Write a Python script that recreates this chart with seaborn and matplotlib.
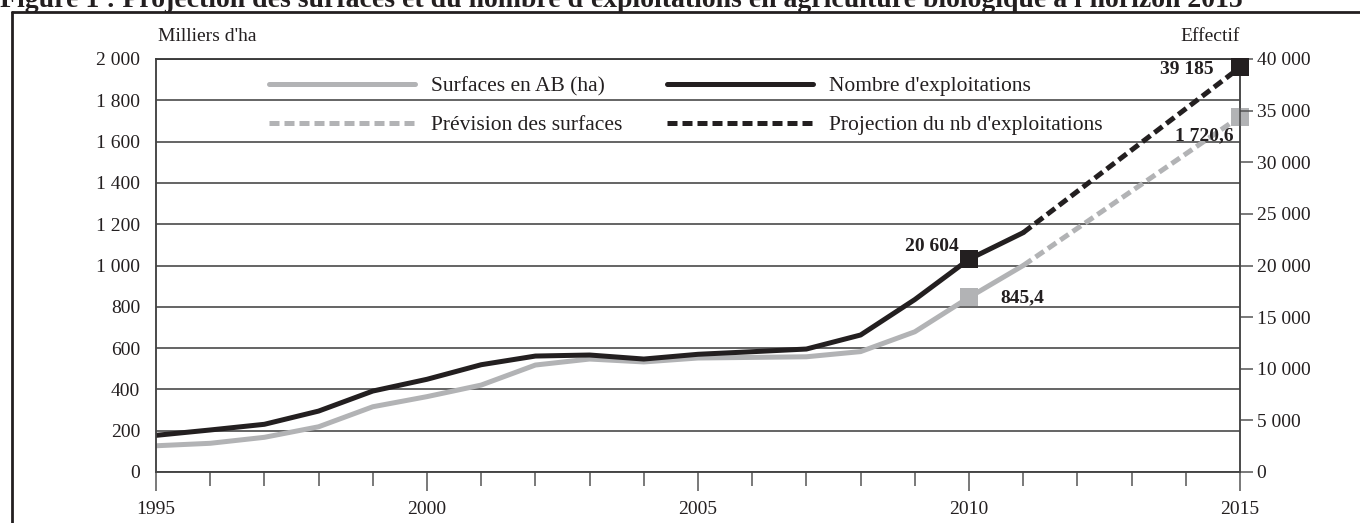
import numpy as np
import pandas as pd
import matplotlib.pyplot as plt
import matplotlib.ticker as mticker
from matplotlib.lines import Line2D
import seaborn as sns

# Surfaces (milliers d'ha) and number of farms, observed 1995-2011
years = list(range(1995, 2012))
surfaces = [127, 139, 168, 219, 316, 365, 421, 518, 547, 533, 552, 555, 558, 583, 679, 845.4, 1000]
exploitations = [3550, 4070, 4620, 5900, 7840, 8980, 10390, 11230, 11330, 10940, 11400,
                 11650, 11910, 13270, 16700, 20604, 23180]

# projections 2011 -> 2015
proj_years = [2011, 2015]
surfaces_proj = [1000, 1720.6]
exploitations_proj = [23180, 39185]

# highlighted points
mark_years = [2010, 2015]
surfaces_marks = [845.4, 1720.6]
exploitations_marks = [20604, 39185]
surfaces_labels = ["845,4", "1 720,6"]
exploitations_labels = ["20 604", "39 185"]

title = ("Figure 1 : Projection des surfaces et du nombre d'exploitations "
         "en agriculture biologique à l'horizon 2015")

sns.set_style('white')
plt.rcParams['font.family'] = ['Liberation Serif', 'DejaVu Serif']

GREY = '#b2b3b5'
BLACK = '#231f20'
LW = 3.6

hist = pd.DataFrame({'annee': years, 'surf': surfaces, 'expl': exploitations})
proj = pd.DataFrame({'annee': proj_years, 'surf': surfaces_proj, 'expl': exploitations_proj})
marks = pd.DataFrame({'annee': mark_years, 'surf': surfaces_marks, 'expl': exploitations_marks})

fig = plt.figure(figsize=(13.6, 5.23), dpi=100)
ax = fig.add_axes([156 / 1360, 1 - 472 / 523, (1240 - 156) / 1360, (472 - 59) / 523])
ax2 = ax.twinx()

sns.lineplot(data=hist, x='annee', y='surf', ax=ax, color=GREY, lw=LW,
             errorbar=None, label='Surfaces en AB (ha)', legend=False)
sns.lineplot(data=proj, x='annee', y='surf', ax=ax, color=GREY, lw=LW,
             linestyle=(0, (2, 1)), errorbar=None, label='Prévision des surfaces', legend=False)
sns.scatterplot(data=marks, x='annee', y='surf', ax=ax, color=GREY, marker='s',
                s=160, linewidth=0, zorder=5, clip_on=False, legend=False)

sns.lineplot(data=hist, x='annee', y='expl', ax=ax2, color=BLACK, lw=LW,
             errorbar=None, label="Nombre d'exploitations", legend=False)
sns.lineplot(data=proj, x='annee', y='expl', ax=ax2, color=BLACK, lw=LW,
             linestyle=(0, (2, 1)), errorbar=None,
             label="Projection du nb d'exploitations", legend=False)
sns.scatterplot(data=marks, x='annee', y='expl', ax=ax2, color=BLACK, marker='s',
                s=160, linewidth=0, zorder=5, clip_on=False, legend=False)

ax.set_xlim(1995, 2015)
ax.set_ylim(0, 2000)
ax2.set_ylim(0, 40000)

fmt = mticker.FuncFormatter(lambda v, p: f"{int(v):,}".replace(",", " "))
ax.yaxis.set_major_locator(mticker.MultipleLocator(200))
ax.yaxis.set_major_formatter(fmt)
ax2.yaxis.set_major_locator(mticker.MultipleLocator(5000))
ax2.yaxis.set_major_formatter(fmt)
ax.xaxis.set_major_locator(mticker.MultipleLocator(5))
ax.xaxis.set_minor_locator(mticker.MultipleLocator(1))
ax.xaxis.set_major_formatter(mticker.FormatStrFormatter('%d'))

ax.grid(axis='y', color='#3a3a3a', lw=1.1)
ax.set_axisbelow(True)
ax.tick_params(axis='y', left=False, labelsize=14, pad=8, colors='#231f20')
ax.tick_params(axis='x', which='major', bottom=True, direction='out', length=14,
               width=1.1, color='#555555', labelsize=14, pad=7, labelcolor='#231f20')
ax.tick_params(axis='x', which='minor', bottom=True, direction='out', length=10,
               width=1.1, color='#555555')
ax2.tick_params(axis='y', right=True, direction='out', length=9, width=1.1,
                color='#555555', labelsize=14, pad=3, labelcolor='#231f20')
ax.set_xlabel('')
ax.set_ylabel('')
ax2.set_ylabel('')

for a in (ax, ax2):
    for s in a.spines.values():
        s.set_color('#444444')
        s.set_linewidth(1.1)
    a.spines['top'].set_color('#3a3a3a')

ax.text(0.002, 1.035, "Milliers d'ha", transform=ax.transAxes, fontsize=14,
        ha='left', va='bottom', color='#231f20')
ax2.text(1.0, 1.035, 'Effectif', transform=ax2.transAxes, fontsize=14,
         ha='right', va='bottom', color='#231f20')

# value labels
lab_kw = dict(textcoords='offset pixels', fontsize=14, fontweight='bold', color='#231f20',
              va='center')
ax2.annotate(exploitations_labels[0], (mark_years[0], exploitations_marks[0]),
             xytext=(-10, 13), ha='right', **lab_kw)
ax2.annotate(exploitations_labels[1], (mark_years[1], exploitations_marks[1]),
             xytext=(-26, -2), ha='right', **lab_kw)
ax.annotate(surfaces_labels[0], (mark_years[0], surfaces_marks[0]),
            xytext=(31, 0), ha='left', **lab_kw)
ax.annotate(surfaces_labels[1], (mark_years[1], surfaces_marks[1]),
            xytext=(-6, -19), ha='right', **lab_kw)

h1, l1 = ax.get_legend_handles_labels()
h2, l2 = ax2.get_legend_handles_labels()
leg = ax2.legend(h1 + h2, l1 + l2, ncol=2, loc='upper left', bbox_to_anchor=(0.086, 1.005),
                 frameon=False, fontsize=15.5, handlelength=6.8, handletextpad=0.75,
                 columnspacing=2.05, labelspacing=0.87)
for t in leg.get_texts():
    t.set_color('#231f20')

# outer frame and (cut) title
fig.add_artist(Line2D([12 / 1360, 1], [1 - 12 / 523, 1 - 12 / 523], color='#231f20', lw=2))
fig.add_artist(Line2D([12 / 1360, 12 / 1360], [0, 1 - 12 / 523], color='#231f20', lw=2))
fig.text(0.0, 1 - 7 / 523, title, fontsize=20, fontweight='bold', ha='left',
         va='baseline', color='#231f20')

fig.savefig('out.png', dpi=100)
